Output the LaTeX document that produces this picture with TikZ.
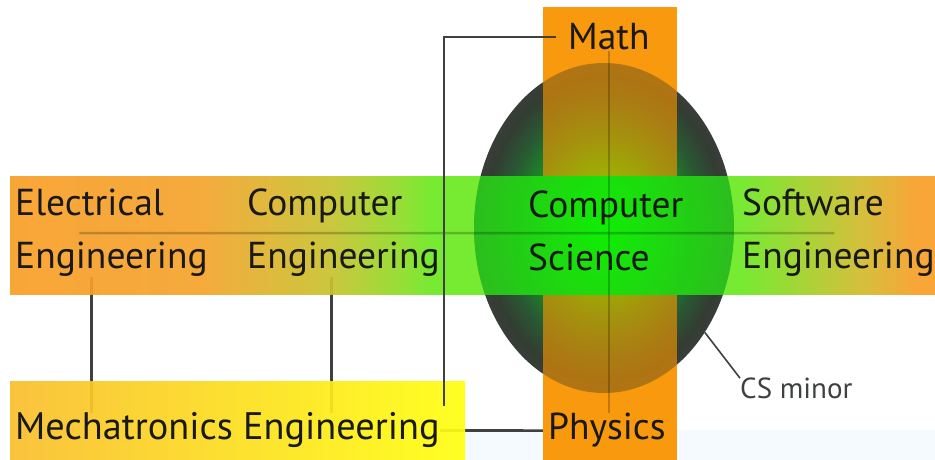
\documentclass[tikz,border=0pt]{standalone}
\usepackage{fontspec}
\setmainfont{PT Sans}
\usepackage{tikz}
\usetikzlibrary{shapes.geometric, positioning, backgrounds}
\definecolor{CSOrange}{RGB}{247,160,38}
\definecolor{CSAmber}{RGB}{250,150,0}
\definecolor{CSGold}{RGB}{250,190,45}
\definecolor{CSYellow}{RGB}{255,255,15}
\definecolor{CSLime}{RGB}{0,240,0}
\definecolor{CSFern}{RGB}{35,185,30}
\definecolor{CSLink}{RGB}{62,64,66}
\definecolor{CSMist}{RGB}{244,250,255}
\pgfdeclarehorizontalshading{cshband}{100bp}{
  rgb(0bp)=(0.97,0.62,0.15); rgb(25bp)=(0.97,0.62,0.15);
  rgb(35.3bp)=(0.96,0.64,0.17); rgb(42.3bp)=(0.78,0.76,0.18);
  rgb(46.1bp)=(0.56,0.86,0.15); rgb(47.7bp)=(0.42,0.91,0.13);
  rgb(64.5bp)=(0.42,0.91,0.13); rgb(71bp)=(0.82,0.73,0.17);
  rgb(74bp)=(0.97,0.62,0.15); rgb(100bp)=(0.97,0.62,0.15)}
\pgfdeclareradialshading{cssphere}{\pgfpoint{0bp}{0bp}}{
  rgb(0bp)=(0,1,0); rgb(8bp)=(0.03,0.85,0.05); rgb(14bp)=(0.1,0.55,0.15);
  rgb(19bp)=(0.16,0.35,0.2); rgb(23bp)=(0.2,0.24,0.2);
  rgb(25bp)=(0.22,0.24,0.22); rgb(50bp)=(0.22,0.24,0.22)}

\begin{document}
\begin{tikzpicture}[x=1pt, y=1pt,
    lbl/.style={inner sep=0pt, align=left, font=\fontsize{37.5}{53}\selectfont, text=black!90},
    link/.style={draw=CSLink, line width=2.6pt},
    tie/.style={draw=black, draw opacity=0.22, line width=2.6pt}]
  \useasboundingbox (0,0) rectangle (935,460);

  % labels
  \node[lbl, anchor=base west] (ee) at (15,191) {Electrical\\Engineering};
  \node[lbl, anchor=base west] (ce) at (247,191) {Computer\\Engineering};
  \node[lbl, anchor=base west] (cs) at (528,189) {Computer\\Science};
  \node[lbl, anchor=base west] (se) at (742,191) {Software\\Engineering};
  \node[lbl, anchor=base west] (math) at (568,410) {Math};
  \node[lbl, anchor=base west] (phys) at (548,20) {Physics};
  \node[lbl, anchor=base west, font=\fontsize{38.3}{53}\selectfont] (mech) at (15,20) {Mechatronics Engineering};
  \node[lbl, anchor=base west, font=\fontsize{29}{34}\selectfont, text=CSLink] (minor) at (740,61) {CS minor};

  \begin{scope}[on background layer]
    \fill[CSMist] (465,0) rectangle (935,30);
    % links under the bands
    \draw[link] ([xshift=-20pt]ee.south) -- ([xshift=-20pt]ee.south |- mech.north);
    \draw[link] ([xshift=-12pt]ce.south) -- ([xshift=-12pt]ce.south |- mech.north);
    \draw[link] (mech.east) -- (phys.west);
    % bands and sphere
    \fill[CSOrange] (543,0) rectangle (677,453);
    \node[ellipse, shade, shading=cssphere, minimum width=260pt, minimum height=330pt] (sph) at (604,232) {};
    \fill[CSAmber, fill opacity=.62] (543,0) rectangle (677,453);
    \shade[shading=cshband, fill opacity=.92] (10,165) rectangle (935,283);
    \begin{scope}
      \clip (10,165) rectangle (935,283);
      \shade[inner color=CSLime, outer color=CSFern, fill opacity=.85]
        (sph.center) ellipse [x radius=130, y radius=165];
    \end{scope}
    \shade[left color=CSGold, right color=CSYellow, fill opacity=.92] (10,0) rectangle (465,78);
  \end{scope}

  \draw[tie] ([xshift=-32pt]ee.center) -- ([xshift=-4pt]se.center);
  \draw[tie] (math.south) -- (math.south |- phys.north);
  \draw[link] ([xshift=-12pt]math.west) -| ([xshift=4pt,yshift=7pt]mech.north east);
  \draw[link, line width=1.6pt] (sph.-46) -- (minor.north west);
\end{tikzpicture}
\end{document}
